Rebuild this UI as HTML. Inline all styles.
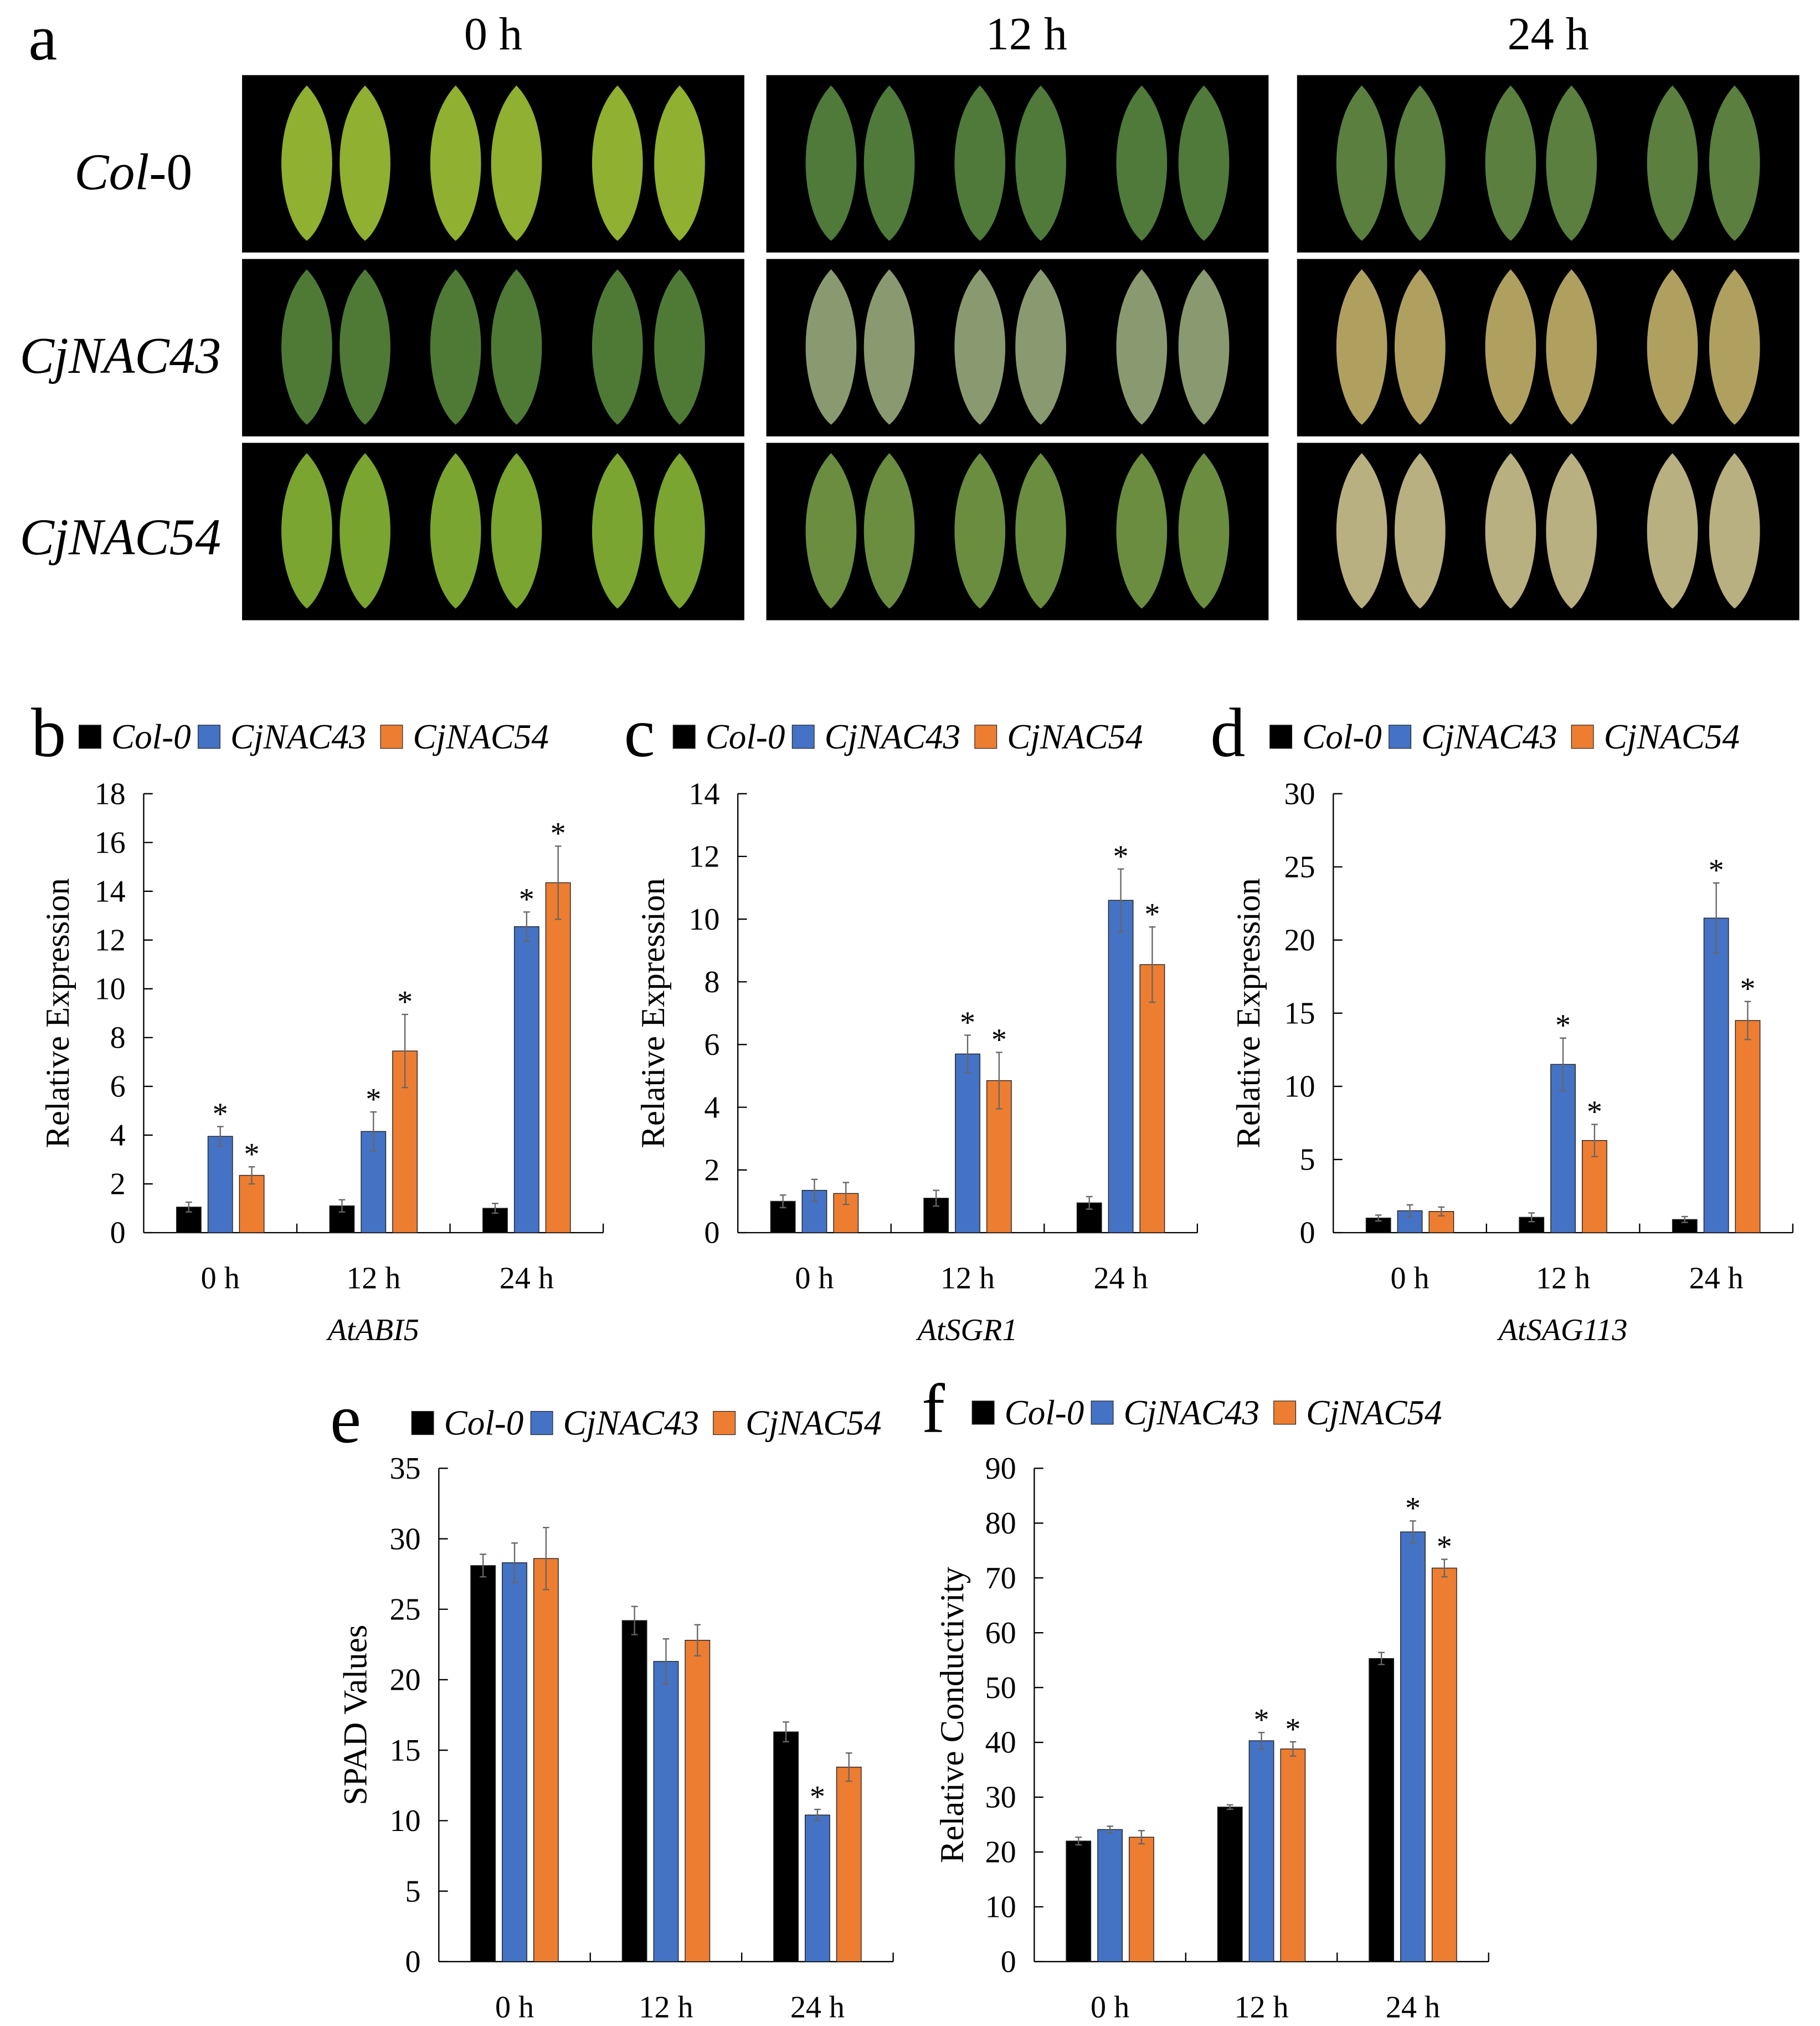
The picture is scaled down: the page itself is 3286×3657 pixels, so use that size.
<!DOCTYPE html>
<html><head><meta charset="utf-8">
<style>
html,body{margin:0;padding:0;background:#fff;}
svg{display:block;}
text{font-family:"Liberation Serif",serif;fill:#000;}
</style></head>
<body>
<svg id="fig" width="3286" height="3657" viewBox="0 0 1406 1564.7" xmlns="http://www.w3.org/2000/svg">
<rect width="1406" height="1565" fill="#fff"/>
<g id="panelA">
<text x="22" y="46" font-size="50">a</text>
<text x="381" y="38" font-size="36" text-anchor="middle">0 h</text>
<text x="793" y="38" font-size="36" text-anchor="middle">12 h</text>
<text x="1196" y="38" font-size="36" text-anchor="middle">24 h</text>
<text x="103" y="146" font-size="40" font-style="italic" text-anchor="middle">Col<tspan font-style="normal">-0</tspan></text>
<text x="93" y="288" font-size="40" font-style="italic" text-anchor="middle">CjNAC43</text>
<text x="93" y="428" font-size="40" font-style="italic" text-anchor="middle">CjNAC54</text>
</g>
<g id="charts"></g>
</svg>
<script>
const NS="http://www.w3.org/2000/svg";
const pa=document.getElementById('panelA');
const charts=document.getElementById('charts');
function mk(tag,attrs,parent){const e=document.createElementNS(NS,tag);for(const k in attrs)e.setAttribute(k,attrs[k]);parent.appendChild(e);return e;}

const photoCols=[187,592,1002];
const photoRows=[58,200,342];
const tileColors=[
 ["#8fb030","#4f7a3a","#5a7f3f"],
 ["#4f7a35","#8a9a70","#b0a060"],
 ["#7aa530","#6a8d40","#b8b080"]];
for(let r=0;r<3;r++)for(let c=0;c<3;c++){
 const g=mk('g',{},pa);
 
 
 mk('rect',{x:photoCols[c],y:photoRows[r],width:388,height:137,fill:'#000'},g);
 const cols=[photoCols[c]+50,photoCols[c]+95,photoCols[c]+165,photoCols[c]+212,photoCols[c]+290,photoCols[c]+338];
 cols.forEach(cx=>{
  mk('path',{d:`M${cx},${photoRows[r]+8} C${cx+30},${photoRows[r]+40} ${cx+22},${photoRows[r]+110} ${cx},${photoRows[r]+128} C${cx-22},${photoRows[r]+110} ${cx-30},${photoRows[r]+40} ${cx},${photoRows[r]+8}Z`,fill:tileColors[r][c]},g);
 });
}

const series=["Col-0","CjNAC43","CjNAC54"];
const colors=["#000000","#4472C4","#ED7D31"];
const groups=["0 h","12 h","24 h"];

const bVals=[[1.05,1.1,1.0],[3.95,4.15,12.55],[2.35,7.45,14.35]];
const bErr=[[0.2,0.25,0.2],[0.4,0.8,0.6],[0.35,1.5,1.5]];
const bStar=[[0,0,0],[1,1,1],[1,1,1]];
const bTicks=[0,2,4,6,8,10,12,14,16,18];

const cVals=[[1.0,1.1,0.95],[1.35,5.7,10.6],[1.25,4.85,8.55]];
const cErr=[[0.2,0.25,0.2],[0.35,0.6,1.0],[0.35,0.9,1.2]];
const cStar=[[0,0,0],[0,1,1],[0,1,1]];
const cTicks=[0,2,4,6,8,10,12,14];

const dVals=[[1.0,1.05,0.9],[1.5,11.5,21.5],[1.45,6.3,14.5]];
const dErr=[[0.2,0.3,0.2],[0.4,1.8,2.4],[0.3,1.1,1.3]];
const dStar=[[0,0,0],[0,1,1],[0,1,1]];
const dTicks=[0,5,10,15,20,25,30];

const eVals=[[28.1,24.2,16.3],[28.3,21.3,10.4],[28.6,22.8,13.8]];
const eErr=[[0.8,1.0,0.7],[1.4,1.6,0.4],[2.2,1.1,1.0]];
const eStar=[[0,0,0],[0,0,1],[0,0,0]];
const eTicks=[0,5,10,15,20,25,30,35];

const fVals=[[22.0,28.2,55.3],[24.1,40.3,78.4],[22.7,38.8,71.8]];
const fErr=[[0.7,0.4,1.1],[0.6,1.5,2.0],[1.2,1.3,1.6]];
const fStar=[[0,0,0],[0,1,1],[0,1,1]];
const fTicks=[0,10,20,30,40,50,60,70,80,90];

function chart(o){
 const g=mk('g',{},charts);
 
 
 const max=o.ticks[o.ticks.length-1];
 const y=v=>o.y0-(v/max)*(o.y0-o.yTop);
 const gw=(o.xEnd-o.x0)/3;
 const gx=i=>o.x0+gw*(i+0.5);
 const pl=mk('text',{x:o.lx,y:o.ly+16,'font-size':54},g);pl.textContent=o.id;
 
 
 const steps=[0,92,233];
 series.forEach((s,i)=>{
  const bx=o.bx+steps[i];
  const le=mk('g',{},g);
  
  
  mk('rect',{x:bx,y:o.ly-8,width:17,height:18,fill:colors[i],stroke:'#222','stroke-width':0.5},le);
  const t=mk('text',{x:bx+25,y:o.ly+10,'font-size':27,'font-style':'italic'},le);t.textContent=s;
 });
 const ax=mk('line',{x1:o.x0,y1:o.y0,x2:o.x0,y2:o.yTop,stroke:'#000','stroke-width':1},g);
 
 
 const xa=mk('line',{x1:o.x0,y1:o.y0,x2:o.xEnd,y2:o.y0,stroke:'#000','stroke-width':1},g);
 
 
 for(let i=1;i<=3;i++)mk('line',{x1:o.x0+gw*i,y1:o.y0,x2:o.x0+gw*i,y2:o.y0-7,stroke:'#000','stroke-width':1},g);
 o.ticks.forEach(t=>{
  mk('line',{x1:o.x0,y1:y(t),x2:o.x0+7,y2:y(t),stroke:'#000','stroke-width':1},g);
  const tl=mk('text',{x:o.x0-14,y:y(t)+8,'font-size':24,'text-anchor':'end'},g);tl.textContent=t;
  
  
 });
 const yl=mk('text',{x:0,y:0,'font-size':26,'text-anchor':'middle',transform:`translate(${o.ylx},${(o.y0+o.yTop)/2}) rotate(-90)`},g);
 yl.textContent=o.ylabel;
 
 
 groups.forEach((gn,i)=>{
  const xl=mk('text',{x:gx(i),y:o.y0+43,'font-size':24,'text-anchor':'middle'},g);xl.textContent=gn;
  
  
 });
 if(o.gene){const gt=mk('text',{x:gx(1),y:o.y0+83,'font-size':24,'font-style':'italic','text-anchor':'middle'},g);gt.textContent=o.gene;
  
  }
 const off=[-o.bw*1.28,0,o.bw*1.28];
 for(let s=0;s<3;s++)for(let i=0;i<3;i++){
  const v=o.vals[s][i],e=o.err[s][i];
  const cx=gx(i)+off[s];
  const b=mk('rect',{x:cx-o.bw/2,y:y(v),width:o.bw,height:o.y0-y(v),fill:colors[s],stroke:'#222','stroke-width':0.6},g);
  
  
  mk('line',{x1:cx,y1:y(v+e),x2:cx,y2:y(v-e),stroke:'#666','stroke-width':1},g);
  mk('line',{x1:cx-2.5,y1:y(v+e),x2:cx+2.5,y2:y(v+e),stroke:'#666','stroke-width':1},g);
  mk('line',{x1:cx-2.5,y1:y(v-e),x2:cx+2.5,y2:y(v-e),stroke:'#666','stroke-width':1},g);
  if(o.star[s][i]){const st=mk('text',{x:cx,y:y(v+e)-2,'font-size':24,'text-anchor':'middle'},g);st.textContent='*';
   
   }
 }
}
chart({id:'b',x0:111,xEnd:466,y0:952,yTop:613,ticks:bTicks,vals:bVals,err:bErr,star:bStar,bw:19,lx:24,bx:61,ly:568,ylx:53,ylabel:'Relative Expression',gene:'AtABI5'});
chart({id:'c',x0:570,xEnd:925,y0:952,yTop:613,ticks:cTicks,vals:cVals,err:cErr,star:cStar,bw:19,lx:482,bx:520,ly:568,ylx:513,ylabel:'Relative Expression',gene:'AtSGR1'});
chart({id:'d',x0:1030,xEnd:1385,y0:952,yTop:613,ticks:dTicks,vals:dVals,err:dErr,star:dStar,bw:19,lx:935,bx:981,ly:568,ylx:973,ylabel:'Relative Expression',gene:'AtSAG113'});
chart({id:'e',x0:339,xEnd:690,y0:1515,yTop:1134,ticks:eTicks,vals:eVals,err:eErr,star:eStar,bw:19,lx:255,bx:318,ly:1098,ylx:283,ylabel:'SPAD Values',gene:null});
chart({id:'f',x0:799,xEnd:1150,y0:1515,yTop:1134,ticks:fTicks,vals:fVals,err:fErr,star:fStar,bw:19,lx:712,bx:751,ly:1090,ylx:744,ylabel:'Relative Conductivity',gene:null});
</script>
</body></html>
